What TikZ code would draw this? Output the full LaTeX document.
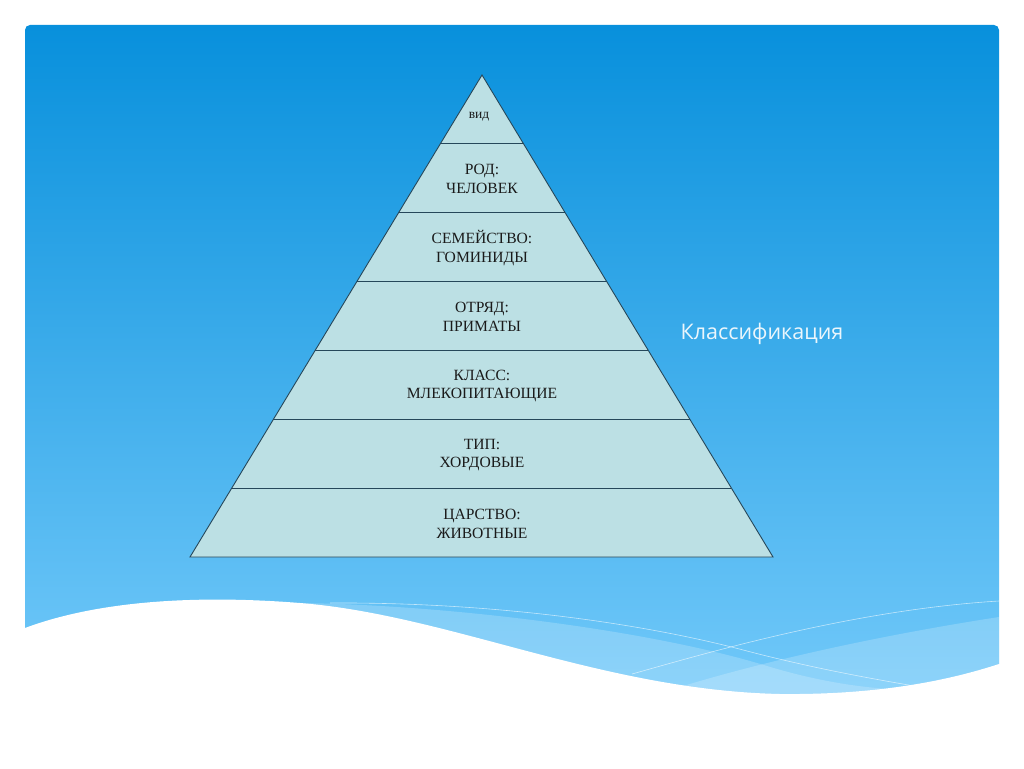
\documentclass[tikz,border=0pt]{standalone}
\usepackage{fontspec}
\setmainfont{Liberation Serif}
\newfontfamily\titulo{Open Sans}
\usepackage{xcolor}
\usepackage{tikz}
\usetikzlibrary{positioning,calc}
\definecolor{cfondoa}{HTML}{0890DC}
\definecolor{cfondob}{HTML}{74CAFA}
\definecolor{cpiso}{HTML}{BCE0E4}
\definecolor{cborde}{HTML}{25475A}
\definecolor{ctexto}{HTML}{1A1A1A}
\tikzset{
  fondo/.style={top color=cfondoa, bottom color=cfondob, rounded corners=5pt},
  velo/.style={fill=white, fill opacity=0.2},
  hilo/.style={draw=white, draw opacity=0.6, line width=0.6pt},
  piso/.style={fill=cpiso, draw=cborde, line width=0.9pt, line join=miter},
  corte/.style={draw=cborde, line width=0.9pt},
  rotulo/.style={align=center, font=\fontsize{15.6}{18.5}\selectfont, text=ctexto, inner sep=0pt},
  titu/.style={font=\titulo\fontsize{21.5}{25}\selectfont, text=white!92!cfondoa},
}

\begin{document}
\begin{tikzpicture}[x=1pt,y=-1pt]
  \useasboundingbox (0,0) rectangle (1024,768);
  \fill[white] (0,0) rectangle (1024,768);
  \shade[fondo] (25,25) rectangle (999,710);
  \fill[velo] (300,603) .. controls (450,605) and (650,630) .. (767,666) .. controls (820,682) and (870,690) .. (920,690) -- (920,730) -- (300,730) -- cycle;
  \fill[velo] (640,700) .. controls (720,672) and (850,640) .. (999,617) -- (999,730) -- (640,730) -- cycle;
  \draw[hilo] (330,603) .. controls (500,602) and (650,625) .. (747,651) .. controls (820,670) and (880,680) .. (920,687);
  \draw[hilo] (632,674) .. controls (700,655) and (850,610) .. (999,601);
  \fill[white] (20,628) -- (25,628) .. controls (100,600) and (200,595) .. (300,603) .. controls (450,615) and (600,690) .. (780,694) .. controls (880,695) and (950,680) .. (999,664) -- (1010,664) -- (1010,768) -- (20,768) -- cycle;
  \coordinate (cima) at (482,75); \coordinate (bizq) at (190,557); \coordinate (bder) at (773,557);
  \draw[piso] (cima) -- (bizq) -- (bder) -- cycle;
  \foreach \k in {1,...,6} \draw[corte] ($(cima)!\k/7!(bizq)$) -- ($(cima)!\k/7!(bder)$);
  \node[rotulo, font=\fontsize{13.5}{15}\selectfont] (vid) at (479,117) {вид};
  \node[rotulo] (rod) at (482,179) {РОД:\\ЧЕЛОВЕК};
  \node[rotulo] (sem) at (482,248) {СЕМЕЙСТВО:\\ГОМИНИДЫ};
  \node[rotulo] (otr) at (482,317) {ОТРЯД:\\ПРИМАТЫ};
  \node[rotulo] (kla) at (482,386) {КЛАСС:\\МЛЕКОПИТАЮЩИЕ};
  \node[rotulo] (tip) at (482,455) {ТИП:\\ХОРДОВЫЕ};
  \node[rotulo] (car) at (482,524) {ЦАРСТВО:\\ЖИВОТНЫЕ};
  \node[titu] (clas) at (762,334) {Классификация};
\end{tikzpicture}
\end{document}
